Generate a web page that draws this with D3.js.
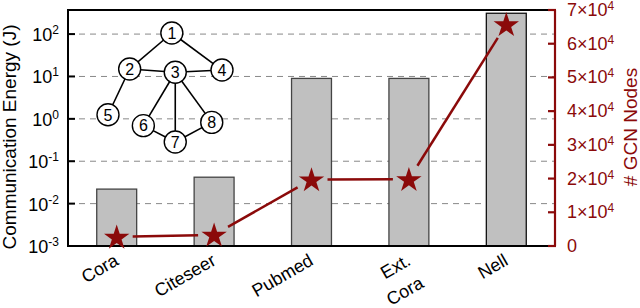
<!DOCTYPE html>
<html>
<head>
<meta charset="utf-8">
<script src="https://cdn.jsdelivr.net/npm/d3@7"></script>
<style>
  body { margin: 0; background: #fff; }
  svg { font-family: "Liberation Sans", Arial, sans-serif; }
</style>
</head>
<body>
<div id="chart"></div>
<script>
    // chart data
    var categories = ['Cora', 'Citeseer', 'Pubmed', 'Ext.\nCora', 'Nell'];
    var energy = [0.022, 0.042, 9, 9, 310];
    var gcnNodes = [2708, 3327, 19717, 19793, 65755];
    var energyTicks = [1e-3, 1e-2, 1e-1, 1e0, 1e1, 1e2];
    var energyExponents = ['-3', '-2', '-1', '0', '1', '2'];
    var nodeTicks = [0, 1e4, 2e4, 3e4, 4e4, 5e4, 6e4, 7e4];
    var nodeTickLabels = ['0', '1', '2', '3', '4', '5', '6', '7'];

    // small graph drawn as an inset (relative layout, 0..1)
    var graphNodes = [
        { id: 1, x: 0.56, y: 0.00 }, { id: 2, x: 0.19, y: 0.33 },
        { id: 3, x: 0.59, y: 0.36 }, { id: 4, x: 1.00, y: 0.34 },
        { id: 5, x: 0.00, y: 0.75 }, { id: 6, x: 0.31, y: 0.85 },
        { id: 7, x: 0.59, y: 1.00 }, { id: 8, x: 0.91, y: 0.82 }
    ];
    var graphEdges = [[1, 2], [1, 4], [2, 3], [3, 4], [2, 5], [3, 6], [3, 7], [3, 8], [6, 7], [7, 8]];

    var width = 640, height = 308;
    var margin = { top: 10, right: 85, bottom: 62, left: 68 };
    var red = '#8b0a0a';

    var svg = d3.select('#chart').append('svg')
        .attr('width', width)
        .attr('height', height);

    var x = d3.scaleBand()
        .domain(categories)
        .range([margin.left, width - margin.right])
        .paddingInner(0.59)
        .paddingOuter(0.295);

    var yLeft = d3.scaleLog()
        .domain([1e-3, 370])
        .range([height - margin.bottom, margin.top]);

    var yRight = d3.scaleLinear()
        .domain([0, 7e4])
        .range([height - margin.bottom, margin.top]);

    var x0 = margin.left, x1 = width - margin.right;
    var yTop = margin.top, yBot = height - margin.bottom;

    // dashed grid lines (behind the bars)
    svg.append('g').selectAll('line')
        .data(energyTicks.slice(1))
        .enter().append('line')
        .attr('x1', x0).attr('x2', x1)
        .attr('y1', function (d) { return yLeft(d); })
        .attr('y2', function (d) { return yLeft(d); })
        .attr('stroke', '#888')
        .attr('stroke-width', 1)
        .attr('stroke-dasharray', '6,5');

    // bars
    svg.append('g').selectAll('rect')
        .data(energy)
        .enter().append('rect')
        .attr('x', function (d, i) { return x(categories[i]); })
        .attr('y', function (d) { return yLeft(d); })
        .attr('width', x.bandwidth())
        .attr('height', function (d) { return yBot - yLeft(d); })
        .attr('fill', '#c0c0c0')
        .attr('stroke', function (d, i) { return i === 4 ? '#111' : '#444'; })
        .attr('stroke-width', 1.3);

    // graph inset
    var gx = d3.scaleLinear().domain([0, 1]).range([108, 222]);
    var gy = d3.scaleLinear().domain([0, 1]).range([33, 142]);
    var byId = {};
    graphNodes.forEach(function (n) { byId[n.id] = n; });
    var inset = svg.append('g');
    inset.selectAll('line')
        .data(graphEdges)
        .enter().append('line')
        .attr('x1', function (e) { return gx(byId[e[0]].x); })
        .attr('y1', function (e) { return gy(byId[e[0]].y); })
        .attr('x2', function (e) { return gx(byId[e[1]].x); })
        .attr('y2', function (e) { return gy(byId[e[1]].y); })
        .attr('stroke', '#000')
        .attr('stroke-width', 1.6);
    var node = inset.selectAll('g.node')
        .data(graphNodes)
        .enter().append('g')
        .attr('class', 'node')
        .attr('transform', function (n) { return 'translate(' + gx(n.x) + ',' + gy(n.y) + ')'; });
    node.append('circle')
        .attr('r', 11)
        .attr('fill', '#fff')
        .attr('stroke', '#000')
        .attr('stroke-width', 1.4);
    node.append('text')
        .attr('text-anchor', 'middle')
        .attr('dy', '0.36em')
        .attr('font-size', 16)
        .text(function (n) { return n.id; });

    // frame
    svg.append('rect')
        .attr('x', x0).attr('y', yTop)
        .attr('width', x1 - x0).attr('height', yBot - yTop)
        .attr('fill', 'none')
        .attr('stroke', '#000')
        .attr('stroke-width', 2);

    // left axis ticks (inward) and labels
    var left = svg.append('g');
    left.selectAll('line')
        .data(energyTicks)
        .enter().append('line')
        .attr('x1', x0).attr('x2', x0 + 7)
        .attr('y1', function (d) { return yLeft(d); })
        .attr('y2', function (d) { return yLeft(d); })
        .attr('stroke', '#000')
        .attr('stroke-width', 2);
    var leftLabel = left.selectAll('text')
        .data(energyTicks)
        .enter().append('text')
        .attr('x', x0 - 9)
        .attr('y', function (d) { return yLeft(d) + 7; })
        .attr('text-anchor', 'end')
        .attr('font-size', 18);
    leftLabel.append('tspan').text('10');
    leftLabel.append('tspan')
        .attr('dy', -7)
        .attr('font-size', 12)
        .text(function (d, i) { return energyExponents[i]; });

    // right axis (red)
    var right = svg.append('g');
    right.append('line')
        .attr('x1', x1).attr('x2', x1)
        .attr('y1', yTop).attr('y2', yBot)
        .attr('stroke', red)
        .attr('stroke-width', 2.2);
    right.selectAll('line.tick')
        .data(nodeTicks)
        .enter().append('line')
        .attr('class', 'tick')
        .attr('x1', x1 - 7).attr('x2', x1 + 1)
        .attr('y1', function (d) { return yRight(d); })
        .attr('y2', function (d) { return yRight(d); })
        .attr('stroke', red)
        .attr('stroke-width', 2.2);
    var rightLabel = right.selectAll('text')
        .data(nodeTicks)
        .enter().append('text')
        .attr('x', x1 + 12)
        .attr('y', function (d) { return yRight(d) + 6; })
        .attr('fill', red)
        .attr('font-size', 18);
    rightLabel.append('tspan')
        .text(function (d, i) { return i === 0 ? '0' : nodeTickLabels[i] + '\u00d710'; });
    rightLabel.filter(function (d, i) { return i > 0; })
        .append('tspan')
        .attr('dy', -6)
        .attr('font-size', 12)
        .text('4');

    // node count line, with gaps around the stars
    var pts = gcnNodes.map(function (d, i) {
        return [x(categories[i]) + x.bandwidth() / 2, yRight(d)];
    });
    var gap = 16;
    var segs = d3.pairs(pts).map(function (p) {
        var dx = p[1][0] - p[0][0], dy = p[1][1] - p[0][1];
        var len = Math.sqrt(dx * dx + dy * dy);
        var ux = dx / len, uy = dy / len;
        return [p[0][0] + ux * gap, p[0][1] + uy * gap, p[1][0] - ux * gap, p[1][1] - uy * gap];
    });
    svg.append('g').selectAll('line')
        .data(segs)
        .enter().append('line')
        .attr('x1', function (s) { return s[0]; })
        .attr('y1', function (s) { return s[1]; })
        .attr('x2', function (s) { return s[2]; })
        .attr('y2', function (s) { return s[3]; })
        .attr('stroke', red)
        .attr('stroke-width', 2.5);
    svg.append('g').selectAll('path')
        .data(pts)
        .enter().append('path')
        .attr('d', d3.symbol().type(d3.symbolStar).size(200))
        .attr('transform', function (p) { return 'translate(' + p[0] + ',' + (p[1] + 1) + ')'; })
        .attr('fill', red);

    // category labels, rotated
    var xl = svg.append('g').selectAll('text')
        .data(categories)
        .enter().append('text')
        .attr('text-anchor', 'end')
        .attr('font-size', 18)
        .attr('transform', function (d) {
            return 'translate(' + (x(d) + x.bandwidth() / 2 + 3) + ',' + (yBot + 18) + ') rotate(-30)';
        });
    xl.each(function (d) {
        var lines = d.split('\n');
        var t = d3.select(this);
        lines.forEach(function (l, j) {
            t.append('tspan')
                .attr('x', 0)
                .attr('y', j * 26)
                .text(l);
        });
    });

    // axis titles
    svg.append('text')
        .attr('transform', 'translate(16,137) rotate(-90)')
        .attr('text-anchor', 'middle')
        .attr('font-size', 19)
        .text('Communication Energy (J)');
    svg.append('text')
        .attr('transform', 'translate(637,127) rotate(-90)')
        .attr('text-anchor', 'middle')
        .attr('font-size', 19)
        .attr('fill', red)
        .text('# GCN Nodes');
</script>
</body>
</html>
